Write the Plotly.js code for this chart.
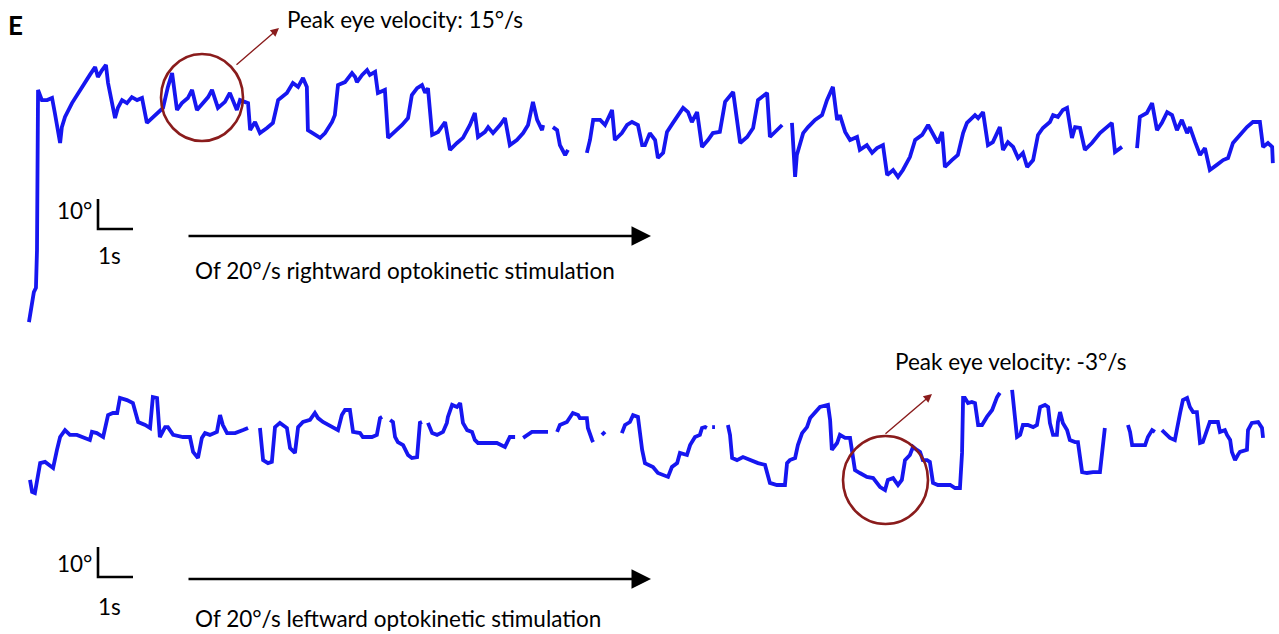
<!DOCTYPE html>
<html>
<head>
<meta charset="utf-8">
<script src="https://cdn.plot.ly/plotly-3.0.1.min.js"></script>
<style>html,body{margin:0;padding:0;background:#fff;}#chart{width:1279px;height:634px;}</style>
</head>
<body>
<div id="chart"></div>
<script>
// Rightward optokinetic stimulation: time (s) and horizontal eye position (deg); null = signal gap
const rightTime = [-0.03,0.03,0.11,0.17,0.2,0.23,0.34,0.49,0.63,0.71,0.86,0.91,1.0,1.2,1.43,1.71,1.86,1.94,2.06,2.17,2.23,2.43,2.51,2.63,2.77,2.91,3.06,3.2,3.34,3.49,3.66,3.8,3.94,4.06,4.2,4.34,4.51,4.63,4.77,4.94,5.09,5.2,5.37,5.57,5.71,5.91,6.0,6.23,6.29,6.43,6.57,6.77,6.94,7.09,7.34,7.51,7.66,7.8,7.91,7.94,8.09,8.29,8.43,8.63,8.71,8.8,9.0,9.2,9.29,9.34,9.49,9.63,9.71,9.86,9.94,10.14,10.23,10.43,10.63,10.8,10.91,11.06,11.2,11.29,11.37,11.49,11.66,11.86,12.0,12.2,12.37,12.57,12.71,12.8,13.0,13.09,13.23,13.43,13.57,13.71,13.91,14.09,14.23,14.37,14.49,14.63,14.66,
14.8,
14.94,15.06,15.14,15.29,15.37,
15.6,
15.91,16.0,16.09,16.29,16.43,16.63,16.71,16.91,17.06,17.2,17.37,17.49,17.57,17.71,17.86,17.94,18.09,18.2,18.37,18.49,18.66,18.8,18.91,19.06,19.2,19.37,19.51,19.71,19.86,20.09,20.2,20.29,20.49,20.66,20.8,21.06,21.14,21.29,21.49,
21.6,
21.77,21.86,21.91,22.09,22.23,22.43,22.63,22.77,22.94,23.06,23.14,23.29,23.43,23.63,23.71,23.91,24.06,24.2,24.37,24.49,24.66,24.8,24.94,25.14,25.29,25.49,25.66,25.8,25.94,26.06,26.14,26.34,26.51,26.66,26.77,26.86,27.0,27.09,27.23,27.37,27.51,27.71,27.8,27.94,28.09,28.23,28.37,28.49,28.66,28.8,28.94,29.14,29.23,29.37,29.51,29.63,29.77,29.86,30.0,30.14,30.34,30.57,30.77,30.91,31.0,31.2,
31.4,
31.63,31.71,31.91,32.06,32.2,32.34,32.49,32.63,32.77,32.91,33.06,33.14,33.29,33.43,33.57,33.71,33.91,34.09,34.23,34.37,34.57,34.77,34.94,35.14,35.23,35.37,35.49,35.51];
const rightPos = [-70.7,-66.7,-60.7,-59.3,-46.7,6.7,3.3,3.3,4,-1,-11,-5.7,-2.3,2.3,6.7,11.7,14.3,11,13.3,15,9,-2.7,0.7,3.3,2.3,4.3,3.3,4,-4.3,-2.7,-1,0.7,7.7,12.3,0,2.3,4,6.7,0,2.3,4.3,6.7,0.7,2.7,5.7,0,3.3,2.3,-6.7,-4,-7.7,-6,-4.3,3.3,5.7,9,7.7,10.7,7.7,-6.7,-7.7,-9.3,-7.7,-4,-1.7,8.3,9.3,12.3,11,9.3,11.7,13.3,11.7,12.7,5.7,6.7,-9.3,-7.3,-5,-2.7,5,7.3,8.3,5.7,7.3,-8.3,-7.3,-4,-13.3,-11,-9.3,-5,-1,-9,-7.3,-5.7,-7.7,-5,-2.7,-11.7,-10,-7.7,-5,2.7,-3.3,-6.7,-5,
null,
-5.7,-6.7,-11.7,-15,-13.3,
null,
-14.3,-10,-3.3,-3.3,-5,0,-10,-7.7,-5,-4,-5,-11.7,-11.7,-7.7,-10,-16,-14.3,-7.3,-4.3,-2.3,0.7,-0.7,-4,-0.7,-12.3,-10,-7.7,-7.3,2.7,6,-4.3,-11,-9,-6,3.3,5.7,-9,-7.3,-5,
null,
-4.3,-22.3,-15,-7.7,-5.7,-3.3,-1.7,3.3,7.7,-3.3,-1.7,-7.3,-10,-9,-13.3,-11.7,-14.3,-12.7,-11.7,-21.7,-20,-22.3,-20,-15.7,-10,-8.3,-5,-7.7,-11,-7.3,-19,-16.7,-15,-7.7,-4.3,-3.3,-1.7,-2.7,-0.7,-11.7,-10.7,-5.7,-13.3,-10.7,-12.3,-16,-14.3,-19,-16.7,-8.3,-6,-4,-1.7,-2.3,0,0.7,-9.3,-5.7,-6,-13.3,-11,-7.7,-5.7,-4.3,-14,-12.3,
null,
-12.7,-2.3,-1,2.3,-6.7,-4.3,-0.7,-1.7,-6.7,-3.3,-7.7,-5.7,-10.7,-15,-12.7,-20,-18.3,-16.7,-16,-11,-8.3,-5.7,-4,-4,-12.3,-11,-12.3,-17.7];

// Leftward optokinetic stimulation
const leftTime = [0,0.06,0.14,0.2,0.29,0.43,0.66,0.77,0.86,1.0,1.14,1.34,1.49,1.71,1.77,1.91,2.09,2.23,2.37,2.49,2.57,2.77,2.94,3.09,3.29,3.43,3.51,3.63,3.71,3.86,3.94,4.09,4.37,4.57,4.66,4.8,4.91,5.0,5.14,5.34,5.43,5.51,5.63,5.86,6.09,6.23,
6.4,
6.57,6.66,6.8,6.91,7.0,7.14,7.34,7.43,7.57,7.66,7.8,8.0,8.14,8.23,8.37,8.66,8.8,8.91,9.0,9.14,9.23,9.43,9.51,9.77,9.91,10.0,10.06,
10.17,
10.29,10.37,10.43,10.51,10.66,10.8,10.91,11.06,11.14,11.2,
11.29,
11.37,11.49,11.63,11.8,11.91,11.94,12.06,12.2,12.29,12.37,12.49,12.63,12.71,12.8,13.06,13.34,13.57,13.63,13.71,13.86,
13.97,
14.09,14.2,14.34,14.8,
14.93,
15.06,15.14,15.34,15.51,15.66,15.71,15.91,15.94,16.06,16.09,
16.2,
16.34,16.43,
16.7,
16.91,17.0,17.14,17.23,17.37,17.49,17.57,17.8,17.94,18.23,18.34,18.49,18.57,18.77,18.86,19.0,19.14,19.2,19.29,19.34,
19.41,
19.49,19.57,
19.75,
19.94,20.0,20.06,20.2,20.37,20.57,20.8,21.0,21.06,21.14,21.34,21.57,21.63,21.71,21.86,21.94,22.06,22.2,22.29,22.43,22.57,22.8,22.86,22.91,23.06,23.14,23.29,23.43,23.51,23.57,23.71,23.91,24.09,24.29,24.43,24.51,24.66,24.8,24.91,25.0,25.14,25.23,25.34,25.43,25.51,25.63,25.71,25.8,25.94,26.29,26.43,26.57,26.63,26.66,26.71,26.8,26.91,27.0,27.09,27.2,27.34,27.49,27.63,27.71,
27.9,
28.06,28.09,28.2,28.29,28.37,28.51,28.66,28.77,28.86,29.0,29.09,29.14,29.23,29.34,29.37,29.43,29.51,29.63,29.71,29.86,29.94,30.0,30.06,30.2,30.37,30.57,30.66,30.71,
31.0,
31.37,31.43,31.49,31.63,31.86,31.94,32.06,32.14,
32.24,
32.34,32.43,32.57,32.71,32.77,32.86,32.94,33.06,33.14,33.23,33.34,33.37,33.43,33.51,33.63,33.71,33.8,33.94,34.0,34.14,34.2,34.29,34.34,34.43,34.51,34.57,34.77,34.8,34.91,35.09,35.2,35.23];
const leftPos = [-13.3,-17.3,-17.7,-13.3,-7.7,-7.3,-9.3,-3.3,1,3.3,1.7,1.7,1,0,2.7,2.3,1,8.3,9,9,14,13.3,12.3,6,5,4,14.3,14,1,4.3,4.3,1.7,1,1,-4,-6,0.7,2.3,1.7,2.7,8.3,5,2.3,2.3,3.3,4,
null,
4,-6.7,-7.7,-7.3,4.3,5.7,4,-2.7,-4.3,4.3,6,6.7,9,7.3,6,4,3.3,8.3,10,10,2.7,2.3,1,1,1.7,7.3,7.7,
null,
6.7,6,1,-0.7,-1.7,-5,-6,-5.7,5.7,6,
null,
5.7,2.3,1.7,2.7,5.7,7.7,11.7,11,12.3,5.7,3.3,2.7,0,-1,-1,-1,-2.3,-0.7,1,1,
null,
0.7,1.7,2.7,2.7,
null,
2.7,5,6,9,8.3,7.3,7.3,4,0,-0.7,
null,
1.7,2.7,
null,
2.3,5,6,8.3,7.7,-3.3,-7.7,-9,-11,-12.3,-9,-7.7,-4.3,-5,-1.7,1,1.7,4,4.3,4,
null,
4.3,4.3,
null,
5,1.7,-6,-6.7,-5.7,-6.7,-7.7,-8.3,-11,-14.3,-15,-15,-7.7,-6.7,-6,-1.7,2.3,4.3,7.3,9,11,11.7,6.7,-3.3,-1,1.7,0.7,0.7,-5.7,-10,-11,-12.3,-12.7,-15.7,-16.7,-13.3,-12.7,-15,-13.3,-6.7,-5,-2.3,-3.3,-4,-6.7,-6.7,-7.3,-14.3,-15,-15,-16,-16,-4.3,14,14,12.3,12.7,12.3,5,5,7.7,10,14.3,15.7,
null,
16.7,13.3,1,1.7,5,5,4.3,5,11,11.7,11,5.7,1.7,1.7,6,9.3,5.7,3.3,0,-0.7,-0.7,-5.7,-10.7,-11,-10.7,-10.7,-2.3,4,
null,
5,2.7,-1.7,-1.7,-1.7,1,3.3,2.7,
null,
3.3,2.3,0.7,0,4.3,9,13.3,14,11,9.3,9.3,5,-1,-0.7,3.3,6,6,6,2.7,3.3,1.7,0,-4,-6.7,-5,-4,-3.3,3.3,5.7,6,4,0.7];

// Texts
const panelLabel = "E";
const peakRight = "Peak eye velocity: 15°/s";
const peakLeft = "Peak eye velocity: -3°/s";
const stimRight = "Of 20°/s rightward optokinetic stimulation";
const stimLeft = "Of 20°/s leftward optokinetic stimulation";
const scaleDegLabel = "10°";
const scaleTimeLabel = "1s";
const scaleDeg = 10;   // deg
const scaleTime = 1;   // s

// ---- layout geometry (pixels of the 1279x634 page) ----
const W = 1279, H = 634;
const PX_PER_S = 35, PX_PER_DEG = 3, T0_PX = 30;
const TOP_ZERO_PX = 110, BOT_ZERO_PX = 440;
const X = px => px / W;
const Y = py => 1 - py / H;
const xRange = [(0 - T0_PX) / PX_PER_S, (W - T0_PX) / PX_PER_S];
const yTopRange = [(TOP_ZERO_PX - H) / PX_PER_DEG, TOP_ZERO_PX / PX_PER_DEG];
const yBotRange = [(BOT_ZERO_PX - H) / PX_PER_DEG, BOT_ZERO_PX / PX_PER_DEG];
const tAt = px => (px - T0_PX) / PX_PER_S;
const dTop = py => (TOP_ZERO_PX - py) / PX_PER_DEG;
const dBot = py => (BOT_ZERO_PX - py) / PX_PER_DEG;

const blue = 'rgb(22,22,240)';
const dark = '#8a1c1c';
const font = 'Lato, "Open Sans", sans-serif';
const FS = 22.5;

// scale bars (1 s x 10 deg), anchored at left of each panel
const sbT = tAt(98);
const sbTopD = dTop(199), sbBotD = dBot(547);

const traces = [
  {x: rightTime, y: rightPos, xaxis:'x', yaxis:'y', mode:'lines', connectgaps:false,
   line:{color: blue, width: 3.8, shape:'linear'}, hoverinfo:'skip'},
  {x: leftTime, y: leftPos, xaxis:'x', yaxis:'y2', mode:'lines', connectgaps:false,
   line:{color: blue, width: 3.8, shape:'linear'}, hoverinfo:'skip'},
  {x:[sbT, sbT, sbT + scaleTime], y:[sbTopD, sbTopD - scaleDeg, sbTopD - scaleDeg], xaxis:'x', yaxis:'y',
   mode:'lines', line:{color:'#000', width:2.6}, hoverinfo:'skip'},
  {x:[sbT, sbT, sbT + scaleTime], y:[sbBotD, sbBotD - scaleDeg, sbBotD - scaleDeg], xaxis:'x', yaxis:'y2',
   mode:'lines', line:{color:'#000', width:2.6}, hoverinfo:'skip'}
];

function txt(text, px, py, size, anchor, bold) {
  return {text: bold ? '<b>' + text + '</b>' : text, xref:'paper', yref:'paper', x:X(px), y:Y(py),
    xanchor: anchor || 'left', yanchor:'middle', showarrow:false,
    font:{family: font, size: size, color:'#000'}};
}
function arrow(x0, y0, x1, y1, color, width, head, size) {
  return {xref:'paper', yref:'paper', axref:'paper', ayref:'paper', x:X(x1), y:Y(y1), ax:X(x0), ay:Y(y0),
    text:'', showarrow:true, arrowhead:head, arrowsize:size, arrowwidth:width, arrowcolor:color};
}

const annotations = [
  txt(panelLabel, 6, 25, 26, 'left', true),
  txt(peakRight, 285, 19, FS),
  txt(peakLeft, 893, 361, FS),
  txt(scaleDegLabel, 94, 211, FS, 'right'),
  txt(scaleTimeLabel, 96, 256, FS),
  txt(stimRight, 193, 270, FS),
  txt(scaleDegLabel, 94, 563, FS, 'right'),
  txt(scaleTimeLabel, 96, 606, FS),
  txt(stimLeft, 193, 618, FS),
  arrow(187, 236, 651, 236, '#000', 2.6, 2, 1.5),
  arrow(187, 579, 651, 579, '#000', 2.6, 2, 1.5),
  arrow(235, 66, 279, 28, dark, 1.4, 2, 1.2),
  arrow(884, 435, 932, 394, dark, 1.4, 2, 1.2)
];

const shapes = [
  {type:'circle', xref:'paper', yref:'paper', x0:X(161), x1:X(243), y0:Y(54), y1:Y(141), line:{color:dark, width:2.6}},
  {type:'circle', xref:'paper', yref:'paper', x0:X(843), x1:X(928), y0:Y(436), y1:Y(524), line:{color:dark, width:2.6}}
];

const axisHidden = {visible:false, showgrid:false, zeroline:false, fixedrange:true};
const layout = {
  width: W, height: H, margin:{l:0, r:0, t:0, b:0},
  paper_bgcolor:'#fff', plot_bgcolor:'#fff', showlegend:false,
  xaxis: Object.assign({range: xRange, domain:[0,1]}, axisHidden),
  yaxis: Object.assign({range: yTopRange, domain:[0,1]}, axisHidden),
  yaxis2: Object.assign({range: yBotRange, overlaying:'y'}, axisHidden),
  annotations: annotations, shapes: shapes
};
Plotly.newPlot('chart', traces, layout, {displayModeBar:false, staticPlot:true});
</script>
</body>
</html>
